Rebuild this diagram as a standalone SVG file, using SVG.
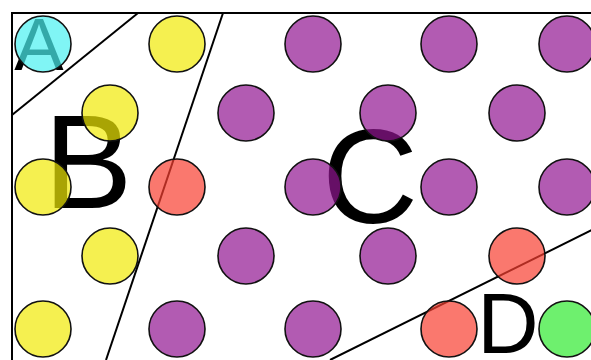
<svg xmlns="http://www.w3.org/2000/svg" width="591" height="360" viewBox="0 0 591 360">
<style>
.ln{stroke:#000;stroke-width:2;fill:none}
.lbl{font-family:"Liberation Sans",Arial,sans-serif;fill:#000;text-anchor:middle}
circle{stroke:#111;stroke-width:1.6;fill-opacity:0.7}
.cy{fill:#4af1f1}.ye{fill:#f1ea05}.pu{fill:#911691}.re{fill:#f83e30}.gr{fill:#30ea30}
</style>
<rect x="0" y="0" width="591" height="360" fill="#fff"/>
<g id="connectors">
<rect class="ln" x="12" y="13" width="620" height="400"/>
<line class="ln" x1="12" y1="115" x2="138" y2="13"/>
<line class="ln" x1="223" y1="13" x2="106" y2="360"/>
<line class="ln" x1="330" y1="360" x2="600" y2="226"/>
</g>
<g id="labels">
<text class="lbl" x="39" y="70" font-size="74">A</text>
<text class="lbl" x="88" y="208" font-size="133">B</text>
<text class="lbl" x="370" y="223" font-size="133">C</text>
<text class="lbl" x="508" y="353" font-size="85">D</text>
</g>
<g id="nodes">
<g id="n1"><circle class="cy" cx="43" cy="44" r="28"/></g>
<g id="n2"><circle class="ye" cx="177" cy="44" r="28"/></g>
<g id="n3"><circle class="pu" cx="313" cy="44" r="28"/></g>
<g id="n4"><circle class="pu" cx="449" cy="44" r="28"/></g>
<g id="n5"><circle class="pu" cx="567" cy="44" r="28"/></g>
<g id="n6"><circle class="ye" cx="110" cy="113" r="28"/></g>
<g id="n7"><circle class="pu" cx="246" cy="113" r="28"/></g>
<g id="n8"><circle class="pu" cx="388" cy="113" r="28"/></g>
<g id="n9"><circle class="pu" cx="517" cy="113" r="28"/></g>
<g id="n10"><circle class="ye" cx="43" cy="187" r="28"/></g>
<g id="n11"><circle class="re" cx="177" cy="187" r="28"/></g>
<g id="n12"><circle class="pu" cx="313" cy="187" r="28"/></g>
<g id="n13"><circle class="pu" cx="449" cy="187" r="28"/></g>
<g id="n14"><circle class="pu" cx="567" cy="187" r="28"/></g>
<g id="n15"><circle class="ye" cx="110" cy="256" r="28"/></g>
<g id="n16"><circle class="pu" cx="246" cy="256" r="28"/></g>
<g id="n17"><circle class="pu" cx="388" cy="256" r="28"/></g>
<g id="n18"><circle class="re" cx="517" cy="256" r="28"/></g>
<g id="n19"><circle class="ye" cx="43" cy="329" r="28"/></g>
<g id="n20"><circle class="pu" cx="177" cy="329" r="28"/></g>
<g id="n21"><circle class="pu" cx="313" cy="329" r="28"/></g>
<g id="n22"><circle class="re" cx="449" cy="329" r="28"/></g>
<g id="n23"><circle class="gr" cx="567" cy="329" r="28"/></g>
</g>
</svg>
